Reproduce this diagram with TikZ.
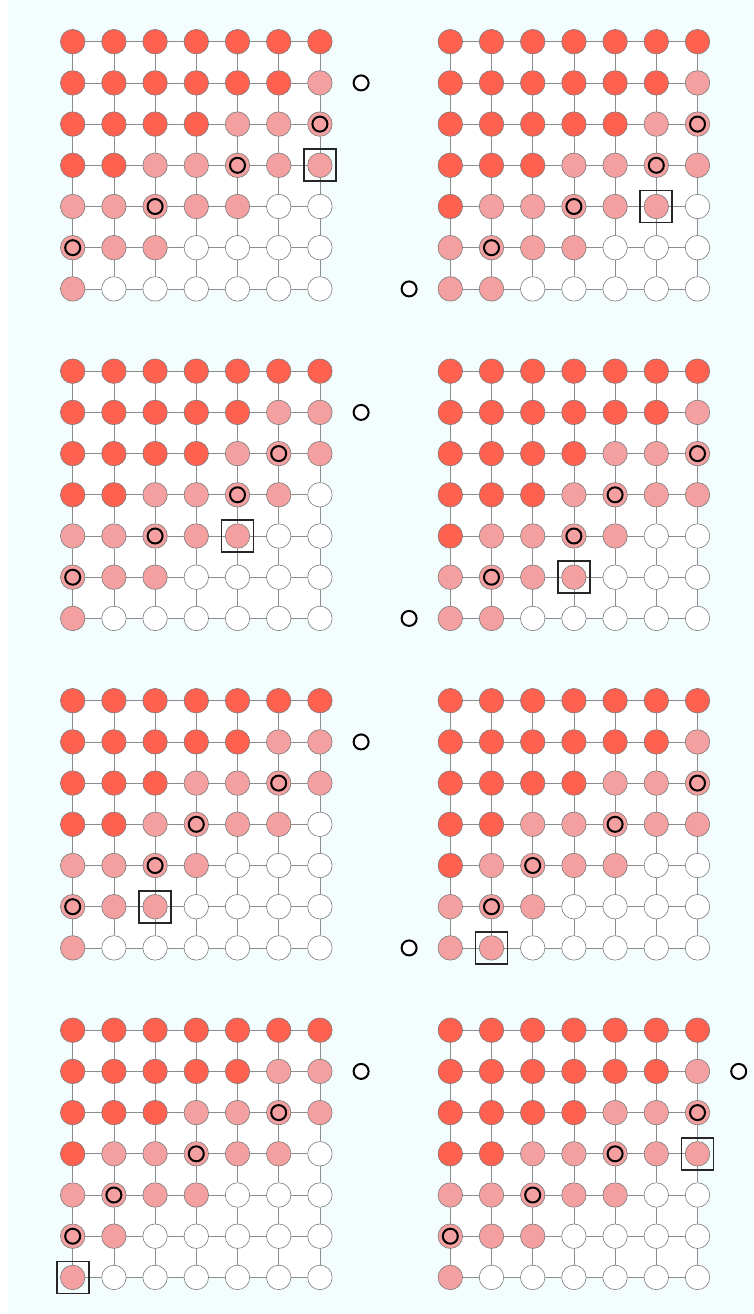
\documentclass[tikz,border=0pt]{standalone}
\usetikzlibrary{backgrounds}
\definecolor{bgc}{HTML}{F4FDFE}
\definecolor{cred}{HTML}{FF6150}
\definecolor{cpink}{HTML}{F4A0A0}
\definecolor{cline}{HTML}{8C8C8C}
\definecolor{cedge}{HTML}{7A7A7A}
\pgfdeclarelayer{bg}
\pgfsetlayers{bg,main}
\tikzset{
  cellbase/.style={circle, draw=cedge, line width=0.6pt, minimum size=24.5pt, inner sep=0pt},
  cell0/.style={cellbase, fill=white},
  cell1/.style={cellbase, fill=cpink},
  cell2/.style={cellbase, fill=cred},
  ringmark/.style={circle, draw=black, line width=2pt, minimum size=15pt, inner sep=0pt},
  selbox/.style={rectangle, draw=black!85, line width=1.8pt, minimum size=32pt, inner sep=0pt},
  gl/.style={draw=cline, line width=0.8pt},
}
% #1 name, #2 x0, #3 y0, #4 rows, #5 rings, #6 square r/c, #7 extra r/c
\newcommand\gridpanel[7]{%
  \foreach \row [count=\r] in {#4} {
    \foreach \v [count=\c] in \row {
      \node[cell\v] (#1-\r-\c) at ({#2+(\c-1)*41.2},{#3+(\r-1)*41.2}) {};
    }
  }
  \begin{pgfonlayer}{bg}
    \fill[white] (#1-1-1.center) rectangle (#1-7-7.center);
    \foreach \r in {1,...,7}{
      \foreach \c [evaluate=\c as \n using int(\c+1)] in {1,...,6}{
        \draw[gl] (#1-\r-\c) -- (#1-\r-\n);
        \draw[gl] (#1-\c-\r) -- (#1-\n-\r);
      }
    }
  \end{pgfonlayer}
  \foreach \a/\b in {#5} { \node[ringmark] (#1-ring-\a-\b) at (#1-\a-\b) {}; }
  \foreach \a/\b in {#6} { \node[selbox] (#1-sel) at (#1-\a-\b) {}; }
  \foreach \a/\b in {#7} { \node[ringmark, fill=white] (#1-extra) at ({#2+(\b-1)*41.2},{#3+(\a-1)*41.2}) {}; }
}
\begin{document}
\begin{tikzpicture}[x=1pt,y=-1pt]
\useasboundingbox (0,0) rectangle (753,1314);
\begin{pgfonlayer}{bg}
  \fill[bgc] (8,0) rectangle (753,1314);
\end{pgfonlayer}
% Panel A (top left)
\gridpanel{A}{72.7}{41.7}{
  {2,2,2,2,2,2,2},{2,2,2,2,2,2,1},{2,2,2,2,1,1,1},{2,2,1,1,1,1,1},
  {1,1,1,1,1,0,0},{1,1,1,0,0,0,0},{1,0,0,0,0,0,0}}
  {3/7,4/5,5/3,6/1}{4/7}{2/8}
% Panel B (top right)
\gridpanel{B}{450.3}{41.7}{
  {2,2,2,2,2,2,2},{2,2,2,2,2,2,1},{2,2,2,2,2,1,1},{2,2,2,1,1,1,1},
  {2,1,1,1,1,1,0},{1,1,1,1,0,0,0},{1,1,0,0,0,0,0}}
  {3/7,4/6,5/4,6/2}{5/6}{7/0}
% Panel C
\gridpanel{C}{72.7}{371.2}{
  {2,2,2,2,2,2,2},{2,2,2,2,2,1,1},{2,2,2,2,1,1,1},{2,2,1,1,1,1,0},
  {1,1,1,1,1,0,0},{1,1,1,0,0,0,0},{1,0,0,0,0,0,0}}
  {3/6,4/5,5/3,6/1}{5/5}{2/8}
% Panel D
\gridpanel{D}{450.3}{371.2}{
  {2,2,2,2,2,2,2},{2,2,2,2,2,2,1},{2,2,2,2,1,1,1},{2,2,2,1,1,1,1},
  {2,1,1,1,1,0,0},{1,1,1,1,0,0,0},{1,1,0,0,0,0,0}}
  {3/7,4/5,5/4,6/2}{6/4}{7/0}
% Panel E
\gridpanel{E}{72.7}{700.7}{
  {2,2,2,2,2,2,2},{2,2,2,2,2,1,1},{2,2,2,1,1,1,1},{2,2,1,1,1,1,0},
  {1,1,1,1,0,0,0},{1,1,1,0,0,0,0},{1,0,0,0,0,0,0}}
  {3/6,4/4,5/3,6/1}{6/3}{2/8}
% Panel F
\gridpanel{F}{450.3}{700.7}{
  {2,2,2,2,2,2,2},{2,2,2,2,2,2,1},{2,2,2,2,1,1,1},{2,2,1,1,1,1,1},
  {2,1,1,1,1,0,0},{1,1,1,0,0,0,0},{1,1,0,0,0,0,0}}
  {3/7,4/5,5/3,6/2}{7/2}{7/0}
% Panel G
\gridpanel{G}{72.7}{1030.2}{
  {2,2,2,2,2,2,2},{2,2,2,2,2,1,1},{2,2,2,1,1,1,1},{2,1,1,1,1,1,0},
  {1,1,1,1,0,0,0},{1,1,0,0,0,0,0},{1,0,0,0,0,0,0}}
  {3/6,4/4,5/2,6/1}{7/1}{2/8}
% Panel H
\gridpanel{H}{450.3}{1030.2}{
  {2,2,2,2,2,2,2},{2,2,2,2,2,2,1},{2,2,2,2,1,1,1},{2,2,1,1,1,1,1},
  {1,1,1,1,1,0,0},{1,1,1,0,0,0,0},{1,0,0,0,0,0,0}}
  {3/7,4/5,5/3,6/1}{4/7}{2/8}
\end{tikzpicture}
\end{document}
